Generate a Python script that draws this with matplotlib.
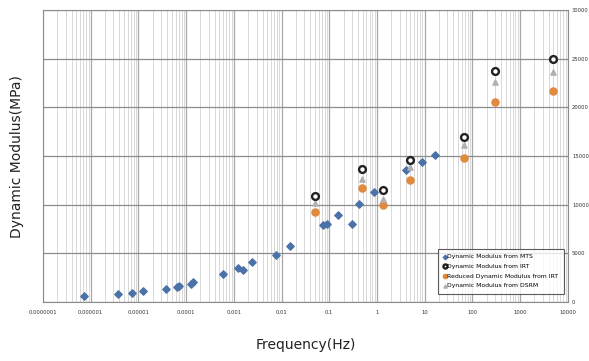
import numpy as np
import matplotlib.pyplot as plt
from matplotlib.ticker import FixedLocator, FixedFormatter, LogLocator, NullFormatter

# Datos
f_mts = [7.4e-7, 3.8e-6, 7.2e-6, 1.26e-5, 3.7e-5, 6.5e-5, 7.2e-5, 1.26e-4, 1.41e-4,
         6.0e-4, 1.23e-3, 1.55e-3, 2.4e-3, 7.6e-3, 0.0148,
         0.074, 0.089, 0.15, 0.295, 0.43, 0.88, 4.1, 8.7, 16.6]
e_mts = [650, 820, 960, 1170, 1340, 1580, 1680, 1820, 2030,
         2850, 3470, 3300, 4120, 4810, 5770,
         7900, 8010, 8970, 8010, 10100, 11270, 13600, 14360, 15080]

f_irt = [0.051, 0.48, 1.37, 5.0, 66, 295, 4900]
e_irt = [10860, 13680, 11550, 14570, 16980, 23740, 24950]
e_red = [9280, 11720, 9930, 12580, 14800, 20590, 21640]
e_dsrm = [10180, 12650, 10590, 13850, 16150, 22610, 23680]

xticks = [1e-7, 1e-6, 1e-5, 1e-4, 1e-3, 1e-2, 1e-1, 1, 10, 100, 1000, 10000]
xlabels = ['0.0000001', '0.000001', '0.00001', '0.0001', '0.001', '0.01',
           '0.1', '1', '10', '100', '1000', '10000']
yticks = [0, 5000, 10000, 15000, 20000, 25000, 30000]

fig = plt.figure(figsize=(5.89, 3.61), dpi=100)
ax = fig.add_axes([0.073, 0.163, 0.891, 0.809])

ax.set_xscale('log')
ax.set_xlim(1e-7, 1e4)
ax.set_ylim(0, 30000)

# Rejilla
ax.xaxis.set_major_locator(FixedLocator(xticks))
ax.xaxis.set_major_formatter(FixedFormatter(xlabels))
ax.xaxis.set_minor_locator(LogLocator(base=10, subs=np.arange(2, 10), numticks=100))
ax.xaxis.set_minor_formatter(NullFormatter())
ax.set_yticks(yticks)
ax.grid(which='major', axis='x', color='#a8a8a8', linewidth=0.9)
ax.grid(which='minor', axis='x', color='#d8d8d8', linewidth=0.7)
ax.grid(which='major', axis='y', color='#8c8c8c', linewidth=0.9)
ax.set_axisbelow(True)

# Series
ax.scatter(f_mts, e_mts, marker='D', s=14, color='#4a72a8', zorder=3,
           label='Dynamic Modulus from MTS')
ax.scatter(f_irt, e_irt, marker='o', s=24, facecolors='white', edgecolors='#222222',
           linewidths=1.7, zorder=4, label='Dynamic Modulus from IRT')
ax.scatter(f_irt, e_red, marker='o', s=26, color='#e08a3c', zorder=3,
           label='Reduced Dynamic Modulus from IRT')
ax.scatter(f_irt, e_dsrm, marker='^', s=14, color='#b0b0b0', zorder=3,
           label='Dynamic Modulus from DSRM')

ax.yaxis.tick_right()
ax.tick_params(axis='both', which='both', length=0, labelsize=3.8, colors='#333333')
ax.tick_params(axis='x', pad=6)
ax.tick_params(axis='y', pad=3)
for s in ax.spines.values():
    s.set_color('#8c8c8c')

ax.set_ylabel('Dynamic Modulus(MPa)', fontsize=10, color='#222222', labelpad=14)
ax.set_xlabel('Frequency(Hz)', fontsize=10, color='#222222', labelpad=16)

leg = ax.legend(loc='lower right', bbox_to_anchor=(0.995, 0.025), fontsize=4.4,
                frameon=True, fancybox=False, edgecolor='#333333', markerscale=0.6,
                handletextpad=0.1, handlelength=0.6, borderpad=0.9, labelspacing=0.7,
                borderaxespad=0.2)
leg.get_frame().set_linewidth(0.8)

plt.savefig('out.png', dpi=100)
